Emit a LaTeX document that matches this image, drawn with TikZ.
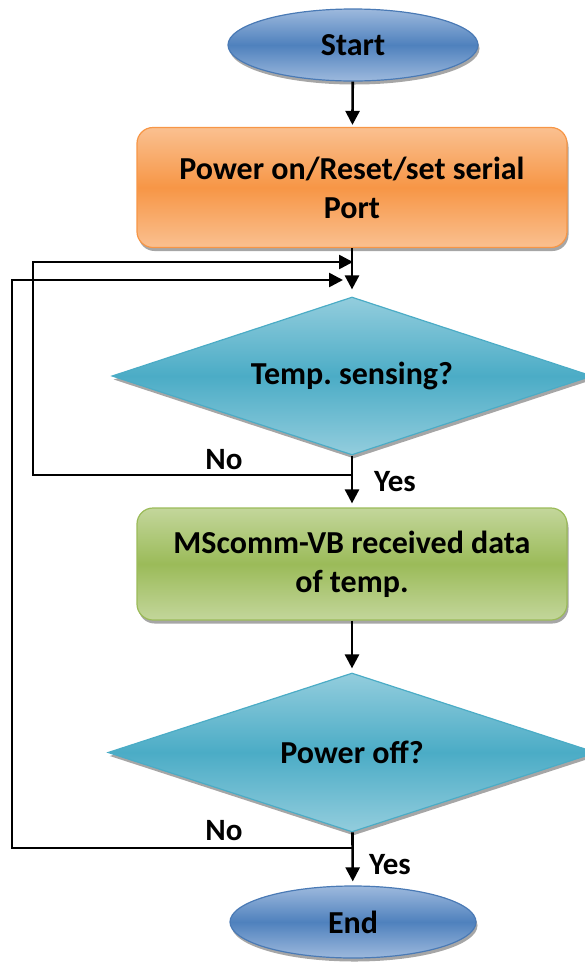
\documentclass[tikz,border=0pt]{standalone}
\usepackage{fontspec}
\setmainfont{Carlito}
\usetikzlibrary{shapes.geometric, shadows, arrows.meta}
\definecolor{termLight}{HTML}{9DB9DD}
\definecolor{termMid}{HTML}{4F81BD}
\definecolor{termEdge}{HTML}{4A7AB5}
\definecolor{procLight}{HTML}{FAC090}
\definecolor{procMid}{HTML}{F79646}
\definecolor{testLight}{HTML}{93CDDD}
\definecolor{testMid}{HTML}{4BACC6}
\definecolor{dataLight}{HTML}{C3D69B}
\definecolor{dataMid}{HTML}{9BBB59}

\begin{document}
\begin{tikzpicture}[
    x=1pt, y=1pt,
    every node/.style={font=\fontsize{32}{39}\selectfont\bfseries\frenchspacing, align=center, inner sep=0pt},
    boxshadow/.style={drop shadow={shadow xshift=1.5pt, shadow yshift=-3.5pt, fill=black, opacity=0.35}},
    terminal/.style={ellipse, draw=termEdge, line width=1.2pt, top color=termLight, bottom color=termLight, middle color=termMid, minimum width=250pt, minimum height=72pt, boxshadow},
    process/.style={rectangle, rounded corners=16pt, line width=1.2pt, minimum width=430pt, boxshadow},
    decision/.style={diamond, shape aspect=3.05, draw=testMid, line width=1.2pt, top color=testLight, bottom color=testLight, middle color=testMid, boxshadow}, % losango das perguntas
    flow/.style={draw, line width=2.6pt, -{Triangle[length=14pt, width=14pt]}},
    answer/.style={font=\fontsize{31}{36}\selectfont\bfseries}
    ]
    \useasboundingbox (0,0) rectangle (585,-967);

    \node[terminal] (start) at (353,-45) {Start};
    \node[process, draw=procMid, top color=procLight, bottom color=procLight, middle color=procMid, minimum height=120pt] (power) at (352,-187.5) {Power on/Reset/set serial\\Port};
    \node[decision, minimum width=480pt, minimum height=158pt] (temp) at (352,-376) {Temp. sensing?};
    \node[process, draw=dataMid, top color=dataLight, bottom color=dataLight, middle color=dataMid, minimum height=112pt] (mscomm) at (352,-564) {MScomm-VB received data\\of temp.};
    \node[decision, minimum width=488pt, minimum height=159pt] (off) at (352,-752.5) {Power off?};
    \node[terminal, minimum width=246pt] (end) at (353,-922) {End};

    % pontos das voltas
    \coordinate (noA) at (352,-475);
    \coordinate (cornerA) at (33,-475);
    \coordinate (joinA) at (353,-262);
    \coordinate (noB) at (352,-848);
    \coordinate (cornerB) at (12,-848);
    \coordinate (joinB) at (343,-280);

    \draw[flow, shorten >=2pt] (start) -- (power);
    \draw[flow, shorten >=7pt] (power) -- (temp);
    \draw[flow, shorten >=4pt] (temp) -- (mscomm);
    \draw[flow, shorten >=4pt] (mscomm) -- (off);
    \draw[flow, shorten >=4pt] (off) -- (end);

    \draw[flow] (noA) -- (cornerA) |- (joinA);
    \draw[flow] (noB) -- (cornerB) |- (joinB);

    \node[answer] (noTemp) at (224,-460) {No};
    \node[answer] (yesTemp) at (395,-482) {Yes};
    \node[answer] (noOff) at (224,-831) {No};
    \node[answer] (yesOff) at (390,-865) {Yes};
\end{tikzpicture}
\end{document}
